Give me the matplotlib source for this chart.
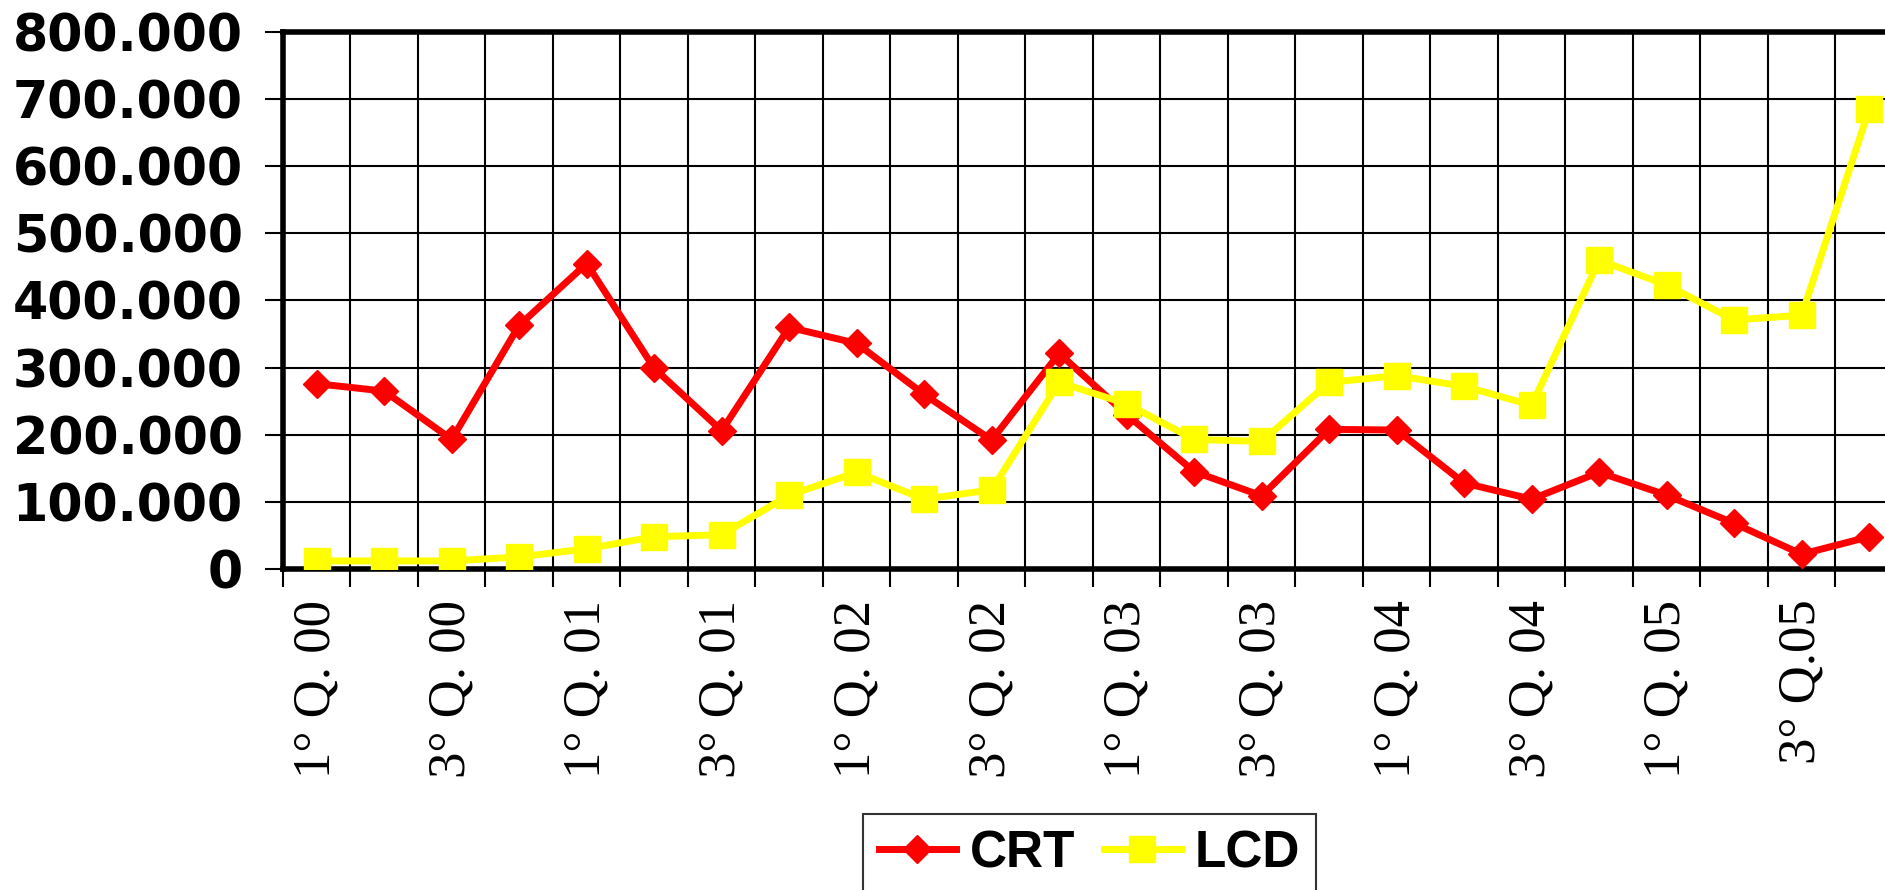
import numpy as np
import matplotlib.pyplot as plt
from matplotlib.ticker import FuncFormatter

# quarterly sales, units
quarters = ["1° Q. 00", "2° Q. 00", "3° Q. 00", "4° Q. 00",
            "1° Q. 01", "2° Q. 01", "3° Q. 01", "4° Q. 01",
            "1° Q. 02", "2° Q. 02", "3° Q. 02", "4° Q. 02",
            "1° Q. 03", "2° Q. 03", "3° Q. 03", "4° Q. 03",
            "1° Q. 04", "2° Q. 04", "3° Q. 04", "4° Q. 04",
            "1° Q. 05", "2° Q. 05", "3° Q.05", "4° Q.05"]
crt = [276000, 265000, 193000, 363000, 455000, 299000, 206000, 360000,
       336000, 260000, 192000, 321000, 230000, 145000, 109000, 208000,
       207000, 128000, 104000, 144000, 110000, 68000, 22000, 48000]
lcd = [12000, 12000, 12000, 18000, 30000, 48000, 51000, 110000,
       144000, 104000, 118000, 278000, 246000, 193000, 190000, 278000,
       288000, 272000, 244000, 460000, 423000, 371000, 378000, 685000]

fig = plt.figure(figsize=(18.85, 8.9), dpi=100)
ax = fig.add_axes([0.1501, 0.3607, 0.8594, 0.6034])

x = np.arange(len(quarters))
ax.plot(x, crt, color="#ff0000", lw=5, marker="D", ms=14.5, label="CRT", zorder=3)
ax.plot(x, lcd, color="#ffff00", lw=5, marker="s", ms=19, label="LCD", zorder=4)

ax.set_xlim(-0.5, len(quarters) - 0.5)
ax.set_ylim(0, 800000)
ax.set_yticks(np.arange(0, 800001, 100000))
ax.yaxis.set_major_formatter(FuncFormatter(lambda v, p: f"{v:,.0f}".replace(",", ".")))

# labels on every other quarter, ticks/grid on category boundaries
ax.set_xticks(x[::2])
ax.set_xticklabels(quarters[::2], rotation=90, va="top", ha="center",
                   family="Liberation Serif", fontsize=38)
ax.set_xticks(np.arange(-0.5, len(quarters), 1), minor=True)
ax.tick_params(axis="x", which="major", length=0, pad=22)
ax.tick_params(axis="x", which="minor", length=13, width=1.5, direction="out")
ax.tick_params(axis="y", length=13, width=1.5, direction="out", pad=16)
for lab in ax.get_yticklabels():
    lab.set_family("DejaVu Sans")
    lab.set_fontweight("bold")
    lab.set_fontsize(36.5)

ax.grid(True, which="minor", axis="x", color="black", lw=1.5, zorder=1)
ax.grid(True, which="major", axis="y", color="black", lw=1.5, zorder=1)
ax.set_axisbelow(True)

for s in ["left", "bottom", "top"]:
    ax.spines[s].set_linewidth(4)
ax.spines["right"].set_visible(False)

leg = fig.legend(loc="upper center", bbox_to_anchor=(0.578, 0.0854), ncol=2,
                 prop={"family": "Liberation Sans", "weight": "bold", "size": 37},
                 frameon=True, fancybox=False, edgecolor="black",
                 handlelength=1.5, handletextpad=0.27, columnspacing=0.56,
                 borderpad=0.3, borderaxespad=0)
leg.get_frame().set_linewidth(1.5)

fig.savefig("out.png", dpi=100)
